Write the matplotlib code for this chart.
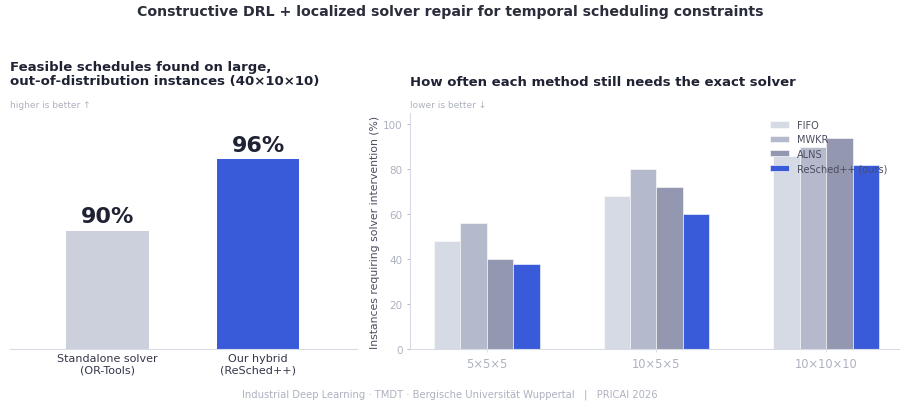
import numpy as np
import matplotlib.pyplot as plt

# ── Data ──────────────────────────────────────────────────────────────────────
left_labels = ["Standalone solver\n(OR-Tools)", "Our hybrid\n(ReSched++)"]
left_values = [90, 96]

sizes = ["5×5×5", "10×5×5", "10×10×10"]
methods = ["FIFO", "MWKR", "ALNS", "ReSched++ (ours)"]
fifo = [48, 68, 86]
mwkr = [56, 80, 90]
alns = [40, 72, 94]
resched = [38, 60, 82]

BLUE = "#3a5bd9"
LEFT_COLORS = ["#cbd0dc", BLUE]
RIGHT_COLORS = ["#d6dae5", "#b4b9cb", "#9398b0", BLUE]
SPINE = "#d8dbe5"
LIGHT = "#aeb2c0"
DARK = "#1f2233"

fig = plt.figure(figsize=(9, 4.02), dpi=100)

fig.text(0.5, 0.97, "Constructive DRL + localized solver repair for temporal scheduling constraints",
         ha="center", va="center", fontsize=10.2, fontweight="bold", color="#2a2d3a")

# ── Left panel: feasibility ──────────────────────────────────────────────────
axL = fig.add_axes([0.011, 0.129, 0.386, 0.59])
x = np.arange(len(left_values))
axL.bar(x, left_values, width=0.55, color=LEFT_COLORS)
for xi, v in zip(x, left_values):
    axL.text(xi, v + 0.4, f"{v}%", ha="center", va="bottom",
             fontsize=16, fontweight="bold", color=DARK)
axL.set_ylim(80, 100)
axL.set_xlim(-0.65, 1.66)
axL.set_xticks(x)
axL.set_xticklabels(left_labels, fontsize=8, color="#33364a")
axL.tick_params(axis="x", length=0, pad=3)
axL.set_yticks([])
for s in ["left", "right", "top"]:
    axL.spines[s].set_visible(False)
axL.spines["bottom"].set_color(SPINE)

fig.text(0.011, 0.814, "Feasible schedules found on large,\nout-of-distribution instances (40×10×10)",
         ha="left", va="center", fontsize=9.5, fontweight="bold", color=DARK, linespacing=1.12)
fig.text(0.011, 0.737, "higher is better ↑", ha="left", va="center", fontsize=6.5, color=LIGHT)

# ── Right panel: solver intervention ─────────────────────────────────────────
axR = fig.add_axes([0.456, 0.129, 0.544, 0.587])
xg = np.arange(len(sizes))
w = 0.156
for i, (vals, lbl, c) in enumerate(zip([fifo, mwkr, alns, resched], methods, RIGHT_COLORS)):
    axR.bar(xg + (i - 1.5) * w, vals, width=w, color=c, label=lbl,
            edgecolor="white", linewidth=0.4)
axR.set_ylim(0, 105)
axR.set_xlim(-0.45, 2.435)
axR.set_xticks(xg)
axR.set_xticklabels(sizes, fontsize=8.3, color=LIGHT)
axR.set_yticks([0, 20, 40, 60, 80, 100])
axR.tick_params(axis="y", labelsize=7.5, colors=LIGHT, length=2, width=0.6)
axR.tick_params(axis="x", length=2, width=0.6, colors=SPINE, labelcolor=LIGHT)
axR.set_ylabel("Instances requiring solver intervention (%)", fontsize=7.8, color="#4a4d5e", labelpad=2)
for s in ["right", "top"]:
    axR.spines[s].set_visible(False)
for s in ["left", "bottom"]:
    axR.spines[s].set_color(SPINE)
leg = axR.legend(loc="upper left", bbox_to_anchor=(0.72, 1.0), frameon=False, fontsize=7,
                 handlelength=2.0, handleheight=0.6, labelspacing=0.45, borderaxespad=0.3)
for t in leg.get_texts():
    t.set_color("#4a4d5e")

fig.text(0.456, 0.796, "How often each method still needs the exact solver",
         ha="left", va="center", fontsize=9.5, fontweight="bold", color=DARK)
fig.text(0.456, 0.737, "lower is better ↓", ha="left", va="center", fontsize=6.5, color=LIGHT)

fig.text(0.5, 0.017, "Industrial Deep Learning · TMDT · Bergische Universität Wuppertal   |   PRICAI 2026",
         ha="center", va="center", fontsize=7.2, color=LIGHT)

fig.savefig("out.png", dpi=100)
